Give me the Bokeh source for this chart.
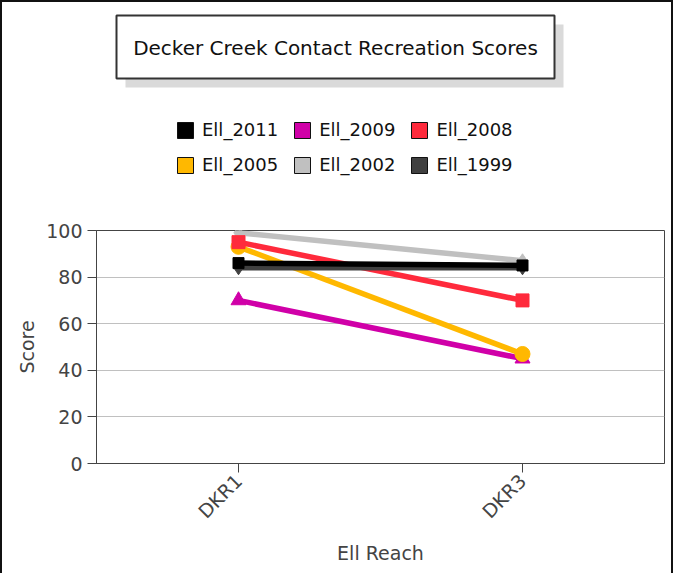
import math
from bokeh.plotting import figure
from bokeh.layouts import column
from bokeh.models import (FactorRange, Range1d, FixedTicker, Legend, LegendItem)
from bokeh.embed import file_html
from bokeh.resources import INLINE
from bokeh.core.properties import value

# ---- data ----
reaches = ["DKR1", "DKR3"]
series_names = ["Ell_2011", "Ell_2009", "Ell_2008", "Ell_2005", "Ell_2002", "Ell_1999"]
ell_2011 = [86, 85]
ell_2009 = [70, 45]
ell_2008 = [95, 70]
ell_2005 = [93, 47]
ell_2002 = [99, 87]
ell_1999 = [84, 84]
y_ticks = [0, 20, 40, 60, 80, 100]
title_text = "Decker Creek Contact Recreation Scores"

colors = {
    "Ell_2011": "#000000",
    "Ell_2009": "#D000A8",
    "Ell_2008": "#FF2A3C",
    "Ell_2005": "#FFB800",
    "Ell_2002": "#C0C0C0",
    "Ell_1999": "#404040",
}
values = {
    "Ell_2011": ell_2011, "Ell_2009": ell_2009, "Ell_2008": ell_2008,
    "Ell_2005": ell_2005, "Ell_2002": ell_2002, "Ell_1999": ell_1999,
}
markers = {
    "Ell_2011": ("square", 11), "Ell_2009": ("triangle", 15), "Ell_2008": ("square", 13),
    "Ell_2005": ("circle", 15), "Ell_2002": ("diamond", 14), "Ell_1999": ("diamond", 14),
}

FONT = "DejaVu Sans"
W = 669
TOP_H = 203
BOT_H = 368
FL, FR = 94, 662   # chart frame left/right (column aligns both frames)

# ---------------- header (title box + legend) ----------------
head = figure(width=W, height=TOP_H, x_range=Range1d(FL, FR), y_range=Range1d(TOP_H, 0),
              output_backend="svg", toolbar_location=None,
              x_axis_location=None, y_axis_location=None,
              min_border=0)
head.outline_line_color = None
head.grid.visible = False
head.background_fill_color = "white"
head.border_fill_color = "white"

# title box with drop shadow
head.quad(left=[123], right=[561], top=[22], bottom=[85],
          fill_color="#dadada", line_color=None)
head.quad(left=[114], right=[552], top=[13], bottom=[76],
          fill_color="white", line_color="#333333", line_width=2)
head.text(x=[333], y=[45], text=[title_text], text_align="center",
          text_baseline="middle", text_font=value(FONT), text_font_size="20px",
          text_color="#111111")

# legend swatches (proxy renderers, only shown in the legend)
nan = float("nan")
legend_rs = {}
for name in series_names:
    legend_rs[name] = head.quad(left=[nan], right=[nan], top=[nan], bottom=[nan],
                                fill_color=colors[name], line_color="#111111",
                                line_width=1)

rows = [series_names[:3], series_names[3:]]
row_y = [65, 30]
for names, ly in zip(rows, row_y):
    leg = Legend(items=[LegendItem(label=n, renderers=[legend_rs[n]]) for n in names],
                 orientation="horizontal", location=(79, ly),
                 glyph_width=20, glyph_height=20, label_standoff=7, spacing=14,
                 label_height=20,
                 padding=0, margin=0, border_line_alpha=0, background_fill_alpha=0,
                 label_text_font=FONT, label_text_font_size="18px",
                 label_text_color="#111111")
    head.add_layout(leg)

# ---------------- chart ----------------
p = figure(width=W, height=BOT_H,
           x_range=FactorRange(factors=reaches, range_padding=0),
           y_range=Range1d(0, 100),
           output_backend="svg", toolbar_location=None,
           min_border_left=FL, min_border_right=W - FR,
           min_border_top=25, min_border_bottom=BOT_H - 25 - 233)
p.outline_line_color = "#444444"
p.background_fill_color = "white"
p.border_fill_color = "white"

p.xgrid.visible = False
p.ygrid.grid_line_color = "#c0c0c0"
p.ygrid.ticker = FixedTicker(ticks=y_ticks)

for ax in (p.xaxis[0], p.yaxis[0]):
    ax.axis_line_color = "#444444"
    ax.major_tick_line_color = "#444444"
    ax.major_tick_out = 9
    ax.major_tick_in = 0
    ax.minor_tick_line_color = None
    ax.major_label_text_font = FONT
    ax.major_label_text_font_size = "19px"
    ax.major_label_text_color = "#444444"
    ax.axis_label_text_font = FONT
    ax.axis_label_text_font_size = "19px"
    ax.axis_label_text_font_style = "normal"
    ax.axis_label_text_color = "#444444"
    ax.major_label_standoff = 5

p.yaxis.ticker = FixedTicker(ticks=y_ticks)
p.yaxis.axis_label = "Score"
p.yaxis.axis_label_standoff = 5
p.xaxis.axis_label = "Ell Reach"
p.xaxis.major_label_orientation = math.pi / 4
p.xaxis.axis_label_standoff = 9

draw_order = ["Ell_2002", "Ell_2009", "Ell_2005", "Ell_2008", "Ell_1999", "Ell_2011"]
for name in draw_order:
    c = colors[name]
    p.line(reaches, values[name], line_width=5.5, line_color=c)
    mk, sz = markers[name]
    p.scatter(reaches, values[name], marker=mk, size=sz, fill_color=c, line_color=c)

layout = column(head, p, spacing=0,
                styles={"border-left": "2px solid #111111",
                        "border-top": "2px solid #111111",
                        "border-right": "2px solid #111111"})
open("out.html", "w").write(file_html(layout, INLINE))
